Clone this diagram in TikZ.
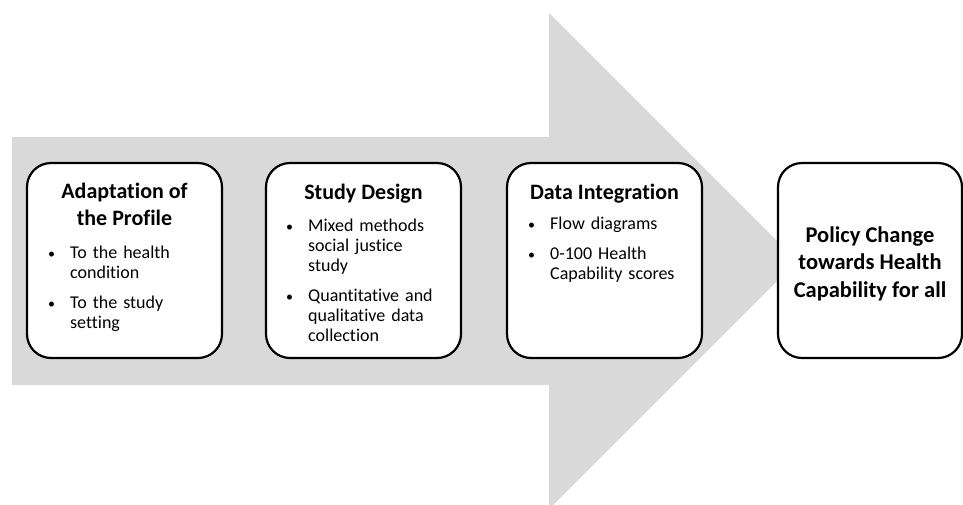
\documentclass[tikz,border=0pt]{standalone}
\usepackage{fontspec}
\setmainfont{Carlito}[Ligatures=NoCommon]
\usepackage{enumitem}
\usetikzlibrary{positioning}
\definecolor{arrowgrey}{HTML}{D9D9D9}
\newlist{pts}{itemize}{1}
\setlist[pts]{label={\fontsize{14}{14}\selectfont\textbullet}, leftmargin=43pt, labelindent=21pt, labelsep=0pt, labelwidth=22pt, align=left, itemsep=10pt, parsep=0pt, topsep=0pt, partopsep=0pt}

\begin{document}
\begin{tikzpicture}[x=1pt,y=-1pt,
	stage/.style={draw=black, line width=2.2pt, rounded corners=24pt, fill=white, minimum width=195pt, minimum height=195pt, inner sep=0pt},
	heading/.style={font=\bfseries\fontsize{22}{27}\selectfont, align=center, anchor=base, inner sep=0pt},
	points/.style={font=\fontsize{18}{20}\selectfont, text width=185pt, align=left, anchor=north west, inner sep=0pt}]
		%%%%% BACKGROUND ARROW %%%%%
		\useasboundingbox (0,0) rectangle (963,504);
		\clip (0,0) rectangle (963,504);
		\fill[arrowgrey] (12,137) -- (549,137) -- (549,13) -- (797,261) -- (549,509) -- (549,385) -- (12,385) -- cycle;
		
		%%%%% STAGES %%%%%
		\node[stage] (adapt) at (124.5,260.5) {};
		\node[stage] (design) at (363.5,260.5) {};
		\node[stage] (integ) at (604.5,260.5) {};
		\node[stage, minimum width=184pt] (policy) at (870,260.5) {};
		
		\node[heading] (adapt-title) at (124.5,225) {Adaptation of\\the Profile};
		\node[points] (adapt-list) at (27,238) {\begin{pts}
			\item To the health\newline condition
			\item To the study\newline setting
		\end{pts}};
		
		\node[heading] (design-title) at (363.5,199) {Study Design};
		\node[points] (design-list) at (265,211) {\begin{pts}
			\item Mixed methods\newline social justice\newline study
			\item Quantitative and\newline qualitative data\newline collection
		\end{pts}};
		
		\node[heading] (integ-title) at (604.5,199) {Data Integration};
		\node[points] (integ-list) at (507,209) {\begin{pts}
			\item Flow diagrams
			\item 0-100 Health\newline Capability scores
		\end{pts}};
		
		\node[heading, font=\bfseries\fontsize{22.5}{27.5}\selectfont, anchor=center] (policy-text) at ([yshift=-3pt]policy.center) {Policy Change\\towards Health\\Capability for all};
	\end{tikzpicture}
\end{document}
